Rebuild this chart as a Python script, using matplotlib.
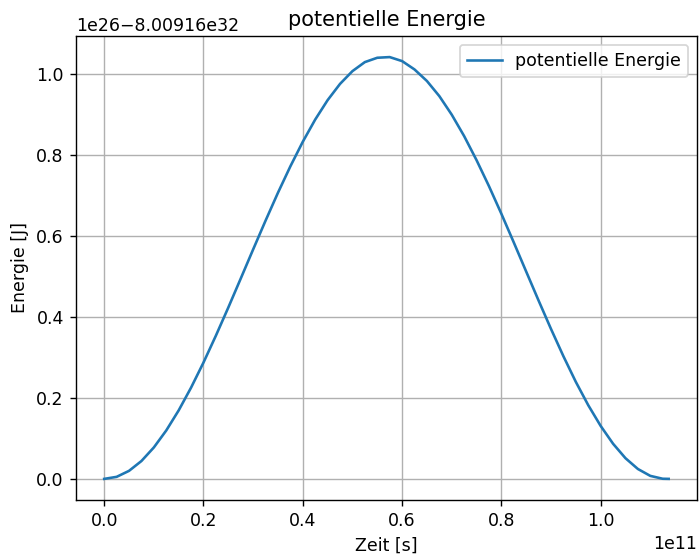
import numpy as np
import matplotlib
matplotlib.use("Agg")
import matplotlib.pyplot as plt

# Zeitpunkte (in 1e11 s) und potentielle Energie relativ zum Offset (in 1e26 J)
zeit_e11 = [0.0, 0.025, 0.05, 0.075, 0.1, 0.125, 0.15, 0.175, 0.2, 0.225,
            0.25, 0.275, 0.3, 0.325, 0.35, 0.375, 0.4, 0.425, 0.45, 0.475,
            0.5, 0.525, 0.55, 0.575, 0.6, 0.625, 0.65, 0.675, 0.7, 0.725,
            0.75, 0.775, 0.8, 0.825, 0.85, 0.875, 0.9, 0.925, 0.95, 0.975,
            1.0, 1.025, 1.05, 1.075, 1.1, 1.125, 1.137]
epot_rel = [0.0, 0.005, 0.0198, 0.0441, 0.0776, 0.1195, 0.1690, 0.2253, 0.2872, 0.3536,
            0.4230, 0.4944, 0.5663, 0.6373, 0.7062, 0.7714, 0.8320, 0.8868, 0.9347, 0.9748,
            1.0063, 1.0286, 1.0393, 1.0410, 1.0311, 1.0105, 0.9820, 0.9447, 0.8989, 0.8460,
            0.7866, 0.7225, 0.6543, 0.5835, 0.5116, 0.4400, 0.3699, 0.3026, 0.2393, 0.1818,
            0.1307, 0.0867, 0.0510, 0.0244, 0.0074, 0.0003, 0.0]

E_OFFSET = -8.00916e32

t = np.array(zeit_e11) * 1e11
epot = E_OFFSET + np.array(epot_rel) * 1e26

fig, ax = plt.subplots(figsize=(699 / 125, 558 / 125), dpi=125)
fig.subplots_adjust(left=0.1087, right=0.997, top=0.9355, bottom=0.104)

ax.plot(t, epot, label="potentielle Energie")
ax.ticklabel_format(axis="y", useOffset=E_OFFSET)
ax.set_title("potentielle Energie")
ax.set_xlabel("Zeit [s]")
ax.set_ylabel("Energie [J]")
ax.grid(True)
ax.legend()

fig.savefig("out.png", dpi=125)
